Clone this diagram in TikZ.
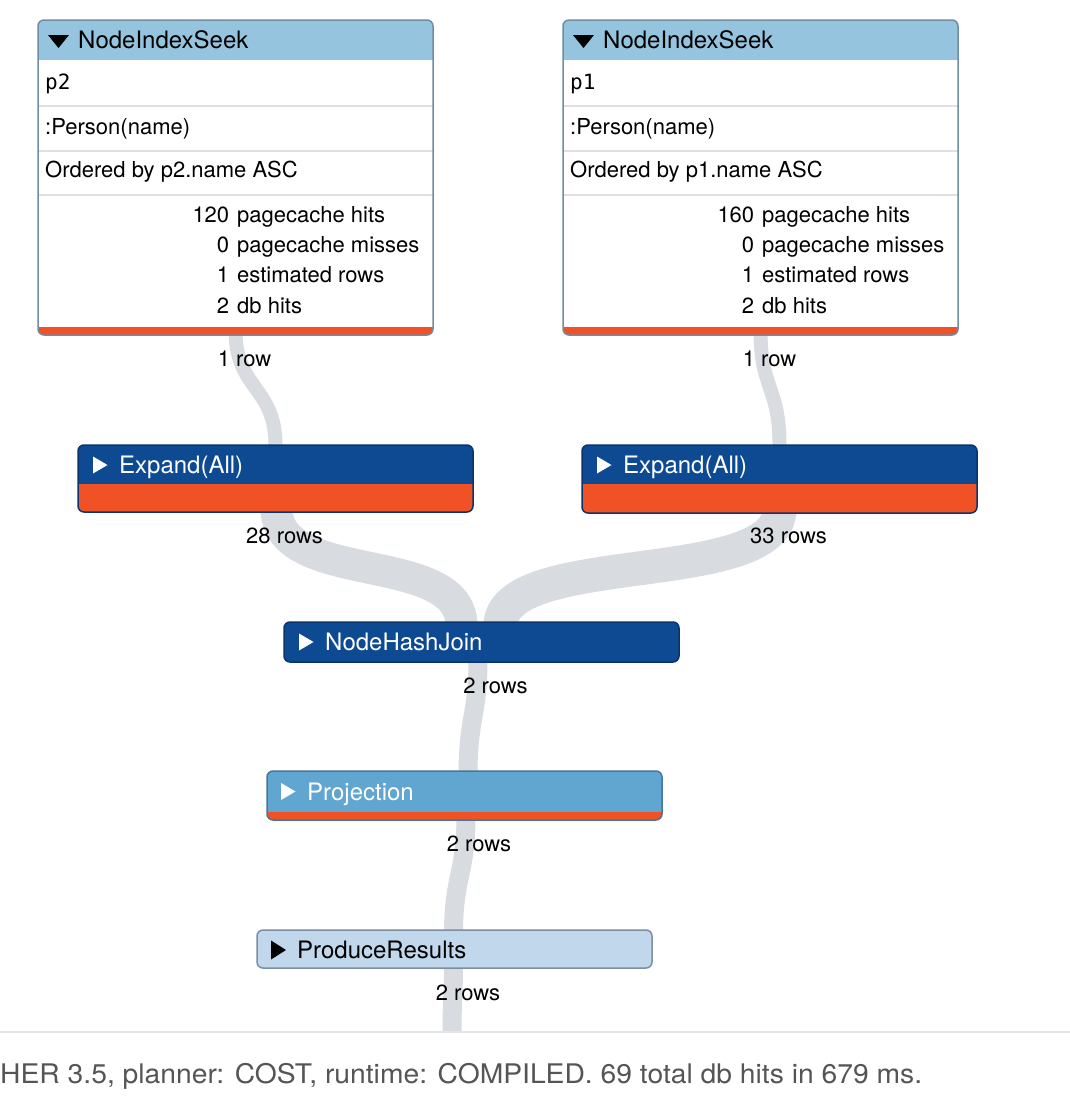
\documentclass[tikz,border=0pt]{standalone}
\usepackage{fontspec}
\setmainfont{TeX Gyre Heros}
\newfontfamily\monof{DejaVu Sans Mono}
\usetikzlibrary{calc}
\pgfdeclarelayer{bg}
\pgfsetlayers{bg,main}
\definecolor{seekhdr}{RGB}{148,196,222}
\definecolor{seekbd}{RGB}{112,140,162}
\definecolor{sepgrey}{RGB}{222,224,226}
\definecolor{opred}{RGB}{240,81,37}
\definecolor{darkop}{RGB}{14,74,146}
\definecolor{darkbd}{RGB}{10,52,110}
\definecolor{projblue}{RGB}{96,166,208}
\definecolor{projbd}{RGB}{70,118,152}
\definecolor{prodfill}{RGB}{192,215,236}
\definecolor{prodbd}{RGB}{124,142,162}
\definecolor{bandgrey}{RGB}{216,219,223}
\definecolor{footgrey}{RGB}{85,85,85}
\definecolor{rulegrey}{RGB}{226,229,233}
\tikzset{
  band/.style={draw=bandgrey, line cap=butt},
  opbox/.style={line width=1.5pt, rounded corners=6pt, inner sep=0pt, outer sep=0pt,
    anchor=north west, minimum width=395pt},
  seekbox/.style={opbox, draw=seekbd, fill=white, minimum height=315pt,
    path picture={
      \fill[seekhdr, sharp corners] (path picture bounding box.north west) rectangle ($(path picture bounding box.north east)+(0,40)$);
      \fill[opred, sharp corners] ($(path picture bounding box.south west)+(0,-8)$) rectangle (path picture bounding box.south east);
      \foreach \yy in {86,131,175}{\draw[sepgrey, line width=2pt, sharp corners] ($(path picture bounding box.north west)+(0,\yy)$) -- ($(path picture bounding box.north east)+(0,\yy)$);}
    }},
  expbox/.style={opbox, draw=darkbd, fill=opred, minimum height=67pt,
    path picture={
      \fill[darkop, sharp corners] (path picture bounding box.north west) rectangle ($(path picture bounding box.north east)+(0,39)$);
    }},
  joinbox/.style={opbox, draw=darkbd, fill=darkop, minimum height=40pt},
  projbox/.style={opbox, draw=projbd, fill=projblue, minimum height=49pt,
    path picture={
      \fill[opred, sharp corners] ($(path picture bounding box.south west)+(0,-8)$) rectangle (path picture bounding box.south east);
    }},
  prodbox/.style={opbox, draw=prodbd, fill=prodfill, minimum height=38pt},
  hdrtxt/.style={anchor=west, inner sep=0pt, font=\fontsize{24}{28}\selectfont, text height=20pt, text depth=3pt},
  bodytxt/.style={anchor=west, inner sep=0pt, font=\fontsize{22}{26}\selectfont, text height=18pt, text depth=2.2pt},
  rowtxt/.style={inner sep=0pt, font=\fontsize{22}{26}\selectfont, text height=18pt, text depth=2.2pt},
}
\begin{document}
\begin{tikzpicture}[x=1pt, y=-1pt]
\useasboundingbox (0,0) rectangle (1070,1112);

% operator boxes
\node[seekbox] (seekL) at (38,20) {};
\node[seekbox] (seekR) at (563,20) {};
\node[expbox] (expL) at (78,445) {};
\node[expbox, minimum height=68pt] (expR) at (582,445) {};
\node[joinbox] (nhj) at (284,622) {};
\node[projbox] (proj) at (267,771) {};
\node[prodbox] (prod) at (257,930) {};

% band end points
\coordinate (seekLOut) at ($(seekL.south)+(0,-4)$);
\coordinate (seekROut) at ($(seekR.south)+(0,-4)$);
\coordinate (expLOut) at ($(expL.south)+(1,-4)$);
\coordinate (expROut) at ($(expR.south)+(0,-4)$);
\coordinate (nhjInL) at ($(nhj.north)+(-20,4)$);
\coordinate (nhjInR) at ($(nhj.north)+(19,4)$);
\coordinate (nhjOut) at ($(nhj.south)+(-3.5,-4)$);
\coordinate (projIn) at ($(proj.north)+(3.5,4)$);
\coordinate (projOut) at ($(proj.south)+(1.5,-4)$);
\coordinate (prodIn) at ($(prod.north)+(-1,4)$);
\coordinate (prodOut) at ($(prod.south)+(-1,-4)$);
\coordinate (flowEnd) at (452,1032);

\begin{pgfonlayer}{bg}
  \fill[white] (0,0) rectangle (1070,1112);
  \draw[band, line width=14pt] (seekLOut) .. controls +(0,58) and +(0,-58) .. (expL.north);
  \draw[band, line width=14pt] (seekROut) .. controls +(0,58) and +(0,-58) .. (expR.north);
  \draw[band, line width=32pt] (expLOut) .. controls +(0,80) and +(0,-78) .. (nhjInL);
  \draw[band, line width=34pt] (expROut) .. controls +(0,80) and +(0,-78) .. (nhjInR);
  \draw[band, line width=19pt] (nhjOut) .. controls +(0,58) and +(0,-58) .. (projIn);
  \draw[band, line width=19pt] (projOut) .. controls +(0,58) and +(0,-58) .. (prodIn);
  \draw[band, line width=19pt] (prodOut) .. controls +(0,30) and +(0,-30) .. (flowEnd);
\end{pgfonlayer}

% left NodeIndexSeek
\node[hdrtxt] (tSeekL) at (78,39.5) {NodeIndexSeek};
\fill ($(tSeekL.west)+(-30,-4.5)$) -- ($(tSeekL.west)+(-9,-4.5)$) -- ($(tSeekL.west)+(-19.5,8.5)$) -- cycle;
\node[bodytxt, font=\monof\fontsize{21}{25}\selectfont] (vL) at (45,81.5) {p2};
\node[bodytxt] (idxL) at (45,126.5) {:Person(name)};
\node[bodytxt] (ordL) at (45,170) {Ordered by p2.name ASC};
\node[bodytxt] (s1L) at (229,214.5) {\llap{120}\hspace{8pt}pagecache hits};
\node[bodytxt] (s2L) at (229,244.5) {\llap{0}\hspace{8pt}pagecache misses};
\node[bodytxt] (s3L) at (229,275) {\llap{1}\hspace{8pt}estimated rows};
\node[bodytxt] (s4L) at (229,306) {\llap{2}\hspace{8pt}db hits};

% right NodeIndexSeek
\node[hdrtxt] (tSeekR) at (603,39.5) {NodeIndexSeek};
\fill ($(tSeekR.west)+(-30,-4.5)$) -- ($(tSeekR.west)+(-9,-4.5)$) -- ($(tSeekR.west)+(-19.5,8.5)$) -- cycle;
\node[bodytxt, font=\monof\fontsize{21}{25}\selectfont] (vR) at (570,81.5) {p1};
\node[bodytxt] (idxR) at (570,126.5) {:Person(name)};
\node[bodytxt] (ordR) at (570,170) {Ordered by p1.name ASC};
\node[bodytxt] (s1R) at (754,214.5) {\llap{160}\hspace{8pt}pagecache hits};
\node[bodytxt] (s2R) at (754,244.5) {\llap{0}\hspace{8pt}pagecache misses};
\node[bodytxt] (s3R) at (754,275) {\llap{1}\hspace{8pt}estimated rows};
\node[bodytxt] (s4R) at (754,306) {\llap{2}\hspace{8pt}db hits};

% Expand(All) left / right
\node[hdrtxt, text=white] (tExpL) at (119,465) {Expand(All)};
\fill[white] ($(tExpL.west)+(-26,-8.5)$) -- ($(tExpL.west)+(-26,8.5)$) -- ($(tExpL.west)+(-11.5,0)$) -- cycle;
\node[hdrtxt, text=white] (tExpR) at (623,465) {Expand(All)};
\fill[white] ($(tExpR.west)+(-26,-8.5)$) -- ($(tExpR.west)+(-26,8.5)$) -- ($(tExpR.west)+(-11.5,0)$) -- cycle;

% NodeHashJoin
\node[hdrtxt, text=white] (tNhj) at (325,642) {NodeHashJoin};
\fill[white] ($(tNhj.west)+(-26,-8.5)$) -- ($(tNhj.west)+(-26,8.5)$) -- ($(tNhj.west)+(-11.5,0)$) -- cycle;

% Projection
\node[hdrtxt, text=white] (tProj) at (307,791.5) {Projection};
\fill[white] ($(tProj.west)+(-26,-8.5)$) -- ($(tProj.west)+(-26,8.5)$) -- ($(tProj.west)+(-11.5,0)$) -- cycle;

% ProduceResults
\node[hdrtxt] (tProd) at (297,950) {ProduceResults};
\fill ($(tProd.west)+(-26,-9.5)$) -- ($(tProd.west)+(-26,9.5)$) -- ($(tProd.west)+(-11,0)$) -- cycle;

% row counts
\node[rowtxt] (r1) at (244.5,358.5) {1 row};
\node[rowtxt] (r2) at (769.5,358.5) {1 row};
\node[rowtxt] (r3) at (284.5,535.5) {28 rows};
\node[rowtxt] (r4) at (788.5,536) {33 rows};
\node[rowtxt] (r5) at (495.5,685.5) {2 rows};
\node[rowtxt] (r6) at (479,844) {2 rows};
\node[rowtxt] (r7) at (468,993) {2 rows};

% footer
\draw[rulegrey, line width=2pt] (0,1032) -- (1070,1032);
\node[anchor=base west, inner sep=0pt, text=footgrey] (foot) at (0,1083)
  {\resizebox{922pt}{\height}{\fontsize{27}{30}\selectfont HER 3.5, planner: COST, runtime: COMPILED. 69 total db hits in 679 ms.}};
\end{tikzpicture}
\end{document}
